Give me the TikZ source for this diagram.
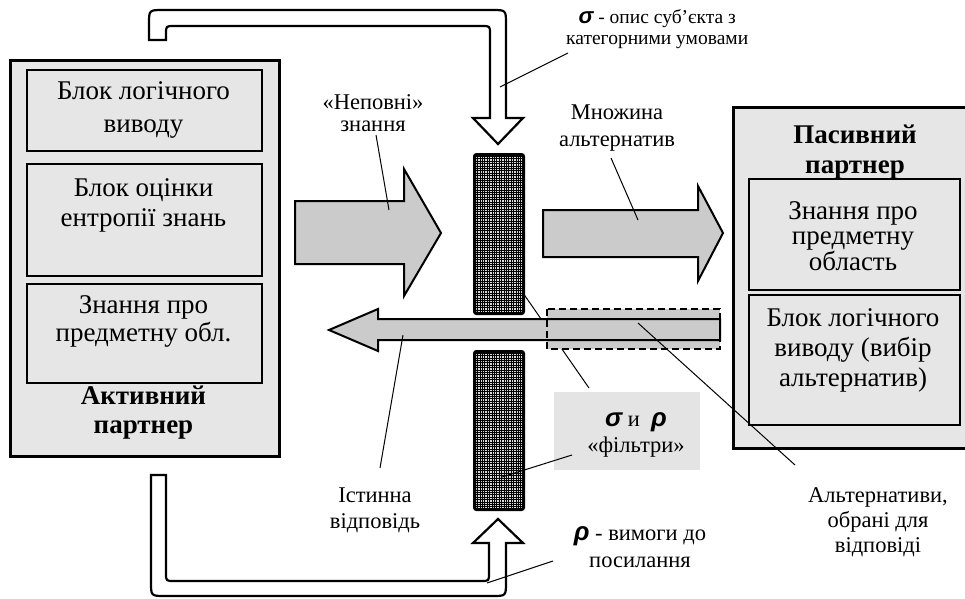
\documentclass[tikz,border=0pt]{standalone}
\usepackage{fontspec}
\setmainfont{Liberation Serif}
\newfontfamily\grkfont{Liberation Sans}
\usetikzlibrary{patterns}
\definecolor{boxgray}{HTML}{E6E6E6}
\definecolor{arrgray}{HTML}{CBCBCB}
\definecolor{lblgray}{HTML}{E4E4E4}
\newcommand{\gsig}{{\grkfont\bfseries\itshape\scalebox{1.15}{σ}}}
\newcommand{\grho}{{\grkfont\bfseries\itshape\scalebox{1.15}{ρ}}}
\pgfdeclarepatternformonly{finegrid}{\pgfqpoint{-1pt}{-1pt}}{\pgfqpoint{3.4pt}{3.4pt}}{\pgfqpoint{2.4pt}{2.4pt}}{%
  \pgfsetlinewidth{0.7pt}
  \pgfpathmoveto{\pgfqpoint{0pt}{-0.5pt}}\pgfpathlineto{\pgfqpoint{0pt}{2.9pt}}
  \pgfpathmoveto{\pgfqpoint{-0.5pt}{0pt}}\pgfpathlineto{\pgfqpoint{2.9pt}{0pt}}
  \pgfusepath{stroke}}
\begin{document}
\begin{tikzpicture}[x=1pt,y=-1pt,
  outerbox/.style={draw, line width=3pt, fill=boxgray, anchor=north west, inner sep=0},
  innerbox/.style={draw, line width=1.6pt, fill=boxgray, anchor=north west, inner sep=0},
  btxt/.style={font=\fontsize{27}{31}\selectfont, align=center, inner sep=0},
  lbl/.style={font=\fontsize{22.5}{26}\selectfont, align=center, inner sep=0},
  fatarrow/.style={draw, line width=2pt, fill=arrgray, line join=miter},
  hollow/.style={draw, line width=2.2pt, fill=white, line join=miter},
  filt/.style={draw, line width=3pt, rounded corners=2pt, preaction={fill=black!15}, pattern=finegrid, anchor=north west, inner sep=0},
  lead/.style={line width=1pt}]
\useasboundingbox (0,0) rectangle (965,598);
\clip (0,0) rectangle (965,598);

% ---------- Active partner ----------
\node[outerbox, minimum width=269pt, minimum height=396pt] (act) at (9,59) {};
\node[innerbox, minimum width=235pt, minimum height=81pt] (actb1) at (26,69) {};
\node[innerbox, minimum width=235pt, minimum height=112pt] (actb2) at (26,163) {};
\node[innerbox, minimum width=235pt, minimum height=99pt] (actb3) at (26,283) {};
\node[btxt, font=\fontsize{27}{33}\selectfont] (actt1) at (143.5,110) {Блок логічного\\виводу};
\node[btxt, font=\fontsize{27}{30}\selectfont] (actt2) at (143.5,205) {Блок оцінки\\ентропії знань};
\node[btxt, font=\fontsize{27}{28}\selectfont] (actt3) at (143.5,321) {Знання про\\предметну обл.};
\node[btxt, font=\fontsize{27}{29}\bfseries] (actt4) at (143.5,413) {Активний\\партнер};

% ---------- Passive partner ----------
\node[outerbox, minimum width=236pt, minimum height=341pt] (pas) at (732,106) {};
\node[btxt, font=\fontsize{27}{30}\bfseries] (past0) at (855,152) {Пасивний\\партнер};
\node[innerbox, minimum width=211pt, minimum height=111pt] (pasb1) at (748,178) {};
\node[innerbox, minimum width=211pt, minimum height=130pt] (pasb2) at (748,294) {};
\node[btxt, font=\fontsize{27}{25}\selectfont] (past1) at (853,236) {Знання про\\предметну\\область};
\node[btxt, font=\fontsize{27}{30}\selectfont] (past2) at (853,350) {Блок логічного\\виводу (вибір\\альтернатив)};

% ---------- hollow U arrows ----------
\draw[hollow] (149,40) -- (149,24) .. controls (149,10) .. (163,10) -- (492,10)
  .. controls (506,10) .. (506,24) -- (506,118) -- (523,118) -- (498,144) -- (473,118)
  -- (490,118) -- (490,34) .. controls (490,26) .. (482,26) -- (174,26)
  .. controls (166,26) .. (166,34) -- (166,40) -- cycle;
\draw[hollow] (151,475) -- (151,582) .. controls (151,596) .. (165,596) -- (492,596)
  .. controls (506,596) .. (506,582) -- (506,543) -- (523,543) -- (498,519) -- (473,543)
  -- (489,543) -- (489,573) .. controls (489,581) .. (481,581) -- (174,581)
  .. controls (166,581) .. (166,573) -- (166,475) -- cycle;

% ---------- filters ----------
\node[filt, minimum width=49pt, minimum height=159pt] (filtup) at (473,153) {};
\node[filt, minimum width=49pt, minimum height=158pt] (filtlo) at (473,350) {};

% ---------- fat arrows ----------
\draw[fatarrow] (295,201) -- (404,201) -- (404,169) -- (441,233) -- (404,296) -- (404,264) -- (295,264) -- cycle;
\draw[fatarrow] (543,210) -- (698,210) -- (698,186) -- (723,233) -- (698,281) -- (698,257) -- (543,257) -- cycle;

% leader hidden behind the returning arrow
\coordinate (filA) at (589,388);
\coordinate (filB) at (523,293);
\draw[lead] (filA) -- (filB);

% dashed box and returning arrow
\fill[arrgray] (547,309) rectangle (720,349);
\draw[fatarrow] (720,319) -- (378,319) -- (378,309) -- (329,330) -- (378,351) -- (378,340) -- (720,340) -- cycle;
\draw[line width=2.5pt, dash pattern=on 7pt off 4pt] (547,309) rectangle (720,349);

% ---------- filter label box ----------
\node[fill=lblgray, minimum width=146pt, minimum height=78pt, anchor=north west, inner sep=0] (filtbox) at (554,392) {};
\node[lbl, font=\fontsize{22.5}{26}\selectfont] (filtxt) at (636,435) {\gsig\ и \ \grho\\«фільтри»};

% ---------- labels ----------
\node[font=\fontsize{19.5}{21}\selectfont, align=center, inner sep=0, anchor=north west] (sigtxt) at (566,9) {\gsig\ - опис суб’єкта з\\категорними умовами};
\node[lbl, font=\fontsize{22.5}{22}\selectfont] (neptxt) at (373,113) {«Неповні»\\знання};
\node[lbl, font=\fontsize{22.5}{27}\selectfont] (mntxt) at (617,128) {Множина\\альтернатив};
\node[lbl] (isttxt) at (375,510) {Істинна\\відповідь};
\node[lbl, font=\fontsize{22.5}{25}\selectfont] (alttxt) at (878,522) {Альтернативи,\\обрані для\\відповіді};
\node[lbl, font=\fontsize{22.5}{27}\selectfont] (rhotxt) at (640,547) {\grho\ - вимоги до\\посилання};

% ---------- leaders ----------
\coordinate (sigA) at (568,53);   \coordinate (sigB) at (500,87);
\coordinate (nepA) at (376,135);  \coordinate (nepB) at (389,210);
\coordinate (mnA) at (611,158);   \coordinate (mnB) at (638,220);
\coordinate (istA) at (380,468);  \coordinate (istB) at (403,335);
\coordinate (altA) at (795,465);  \coordinate (altB) at (638,323);
\coordinate (fiA) at (572,455);   \coordinate (fiB) at (502,477);
\coordinate (rhoA) at (553,561);  \coordinate (rhoB) at (487,583);
\draw[lead] (sigA) -- (sigB);
\draw[lead] (nepA) -- (nepB);
\draw[lead] (mnA) -- (mnB);
\draw[lead] (istA) -- (istB);
\draw[lead] (altA) -- (altB);
\draw[lead] (fiA) -- (fiB);
\draw[lead] (rhoA) -- (rhoB);
\end{tikzpicture}
\end{document}
